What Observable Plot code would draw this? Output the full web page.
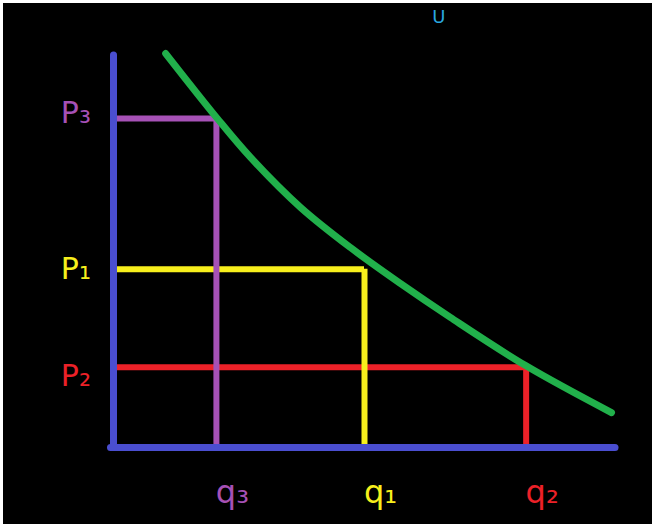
<!DOCTYPE html>
<html>
<head>
<meta charset="utf-8">
<script src="https://cdn.jsdelivr.net/npm/d3@7"></script>
<script src="https://cdn.jsdelivr.net/npm/@observablehq/plot@0.6"></script>
<style>
  html, body { margin: 0; padding: 0; background: #ffffff; overflow: hidden; }
  #chart { position: absolute; left: 3px; top: 3px; }
  #chart svg { overflow: hidden; max-width: none !important; display: block; }
</style>
</head>
<body>
<div id="chart"></div>
<script>
// Demand curve (quantity, price) in abstract units
const demandQ = [1.04, 2.07, 2.73, 3.73, 4.72, 5.72, 6.71, 8.21, 9.92];
const demandP = [10.05, 8.39, 7.40, 6.12, 5.10, 4.18, 3.32, 2.09, 0.89];

// Price–quantity pairs
const pointLabels = ["3", "1", "2"];
const pointQ = [2.05, 5.0, 8.22];
const pointP = [8.39, 4.55, 2.05];
const pointColors = ["#a651b6", "#f7ef1c", "#ec2128"];
const priceLabels = ["P₃", "P₁", "P₂"];
const qtyLabels = ["q₃", "q₁", "q₂"];
const priceLabelDy = [-5, 0, 9];

// Axis extents
const axisMax = 10;

const demand = demandQ.map((q, i) => ({q, p: demandP[i]}));
const points = pointLabels.map((k, i) => ({
  k, q: pointQ[i], p: pointP[i], color: pointColors[i],
  pl: priceLabels[i], ql: qtyLabels[i], dy: priceLabelDy[i]
}));

const W = 700, H = 560;
const chart = Plot.plot({
  width: W,
  height: H,
  marginLeft: 110,
  marginRight: W - 612,
  marginTop: 52,
  marginBottom: H - 444,
  style: {background: "#000000", overflow: "hidden", maxWidth: "none"},
  x: {domain: [0, axisMax], axis: null},
  y: {domain: [0, axisMax], axis: null},
  marks: [
    Plot.ruleY(points, {y: "p", x1: 0, x2: "q", stroke: d => d.color, strokeWidth: 6}),
    Plot.ruleX(points, {x: "q", y1: 0, y2: "p", stroke: d => d.color, strokeWidth: 6}),
    Plot.ruleX([0], {y1: 0, y2: axisMax, stroke: "#4a4ed0", strokeWidth: 7, strokeLinecap: "round"}),
    Plot.ruleY([0], {x1: -0.05, x2: axisMax, stroke: "#4a4ed0", strokeWidth: 7, strokeLinecap: "round"}),
    Plot.line(demand, {x: "q", y: "p", curve: "catmull-rom", stroke: "#21b04b", strokeWidth: 7, strokeLinecap: "round"}),
    ...points.map(d => Plot.text([d], {
      x: -0.75, y: "p", text: "pl", fill: d.color, dy: d.dy,
      fontSize: 30, fontFamily: "DejaVu Sans", textAnchor: "middle", lineAnchor: "middle"
    })),
    Plot.text(points, {
      x: "q", y: 0, text: "ql", fill: d => d.color, dx: 16, dy: 45,
      fontSize: 32, fontFamily: "DejaVu Sans", textAnchor: "middle", lineAnchor: "middle"
    }),
    Plot.text(["U"], {
      x: 6.48, y: 10.82, text: d => d, fill: "#2aa8e0",
      fontSize: 18, fontFamily: "DejaVu Sans", textAnchor: "middle", lineAnchor: "bottom"
    })
  ]
});
document.getElementById("chart").appendChild(chart);
</script>
</body>
</html>
